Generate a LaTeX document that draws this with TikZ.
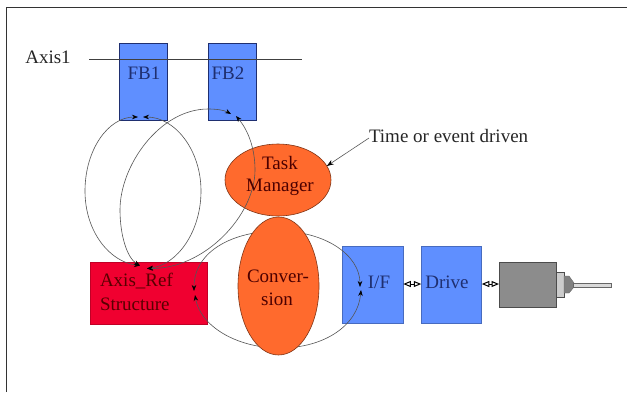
\documentclass[tikz,border=0pt]{standalone}
\usepackage{fontspec}
\setmainfont{Liberation Serif}
\usetikzlibrary{arrows.meta,shapes.geometric}
\definecolor{bluebox}{HTML}{5F8FFF}
\definecolor{orangeel}{HTML}{FF6A2D}
\definecolor{redbox}{HTML}{F00030}
\definecolor{edgeblue}{HTML}{1F2F70}
\definecolor{curveline}{HTML}{555555}
\tikzset{
 every node/.style={font=\fontsize{19}{22}\selectfont,inner sep=0pt,outer sep=0pt},
 fbbox/.style={draw=edgeblue,line width=0.9pt,fill=bluebox,minimum width=48pt,minimum height=77pt},
 blk/.style={draw=bluebox!75!black,line width=0.7pt,fill=bluebox,minimum width=60.5pt,minimum height=77pt},
 oval/.style={draw=black!50!orangeel,line width=0.6pt,fill=orangeel,ellipse},
 arcline/.style={draw=curveline,line width=0.6pt},
 twotips/.style={arcline,{Stealth[length=6pt,width=4.5pt,color=black]}-{Stealth[length=6pt,width=4.5pt,color=black]}},
 link/.style={draw=black,line width=1pt,{Triangle[open,fill=white,length=7.5pt,width=6pt]}-{Triangle[open,fill=white,length=7.5pt,width=6pt]}},
 lbl/.style={text=#1,align=center},
}
\begin{document}
\begin{tikzpicture}[x=1pt,y=-1pt]
\useasboundingbox (0,0) rectangle (627,392);
\fill[white] (0,0) rectangle (627,392);
\coordinate (fl) at (6.5,392);
\coordinate (ftl) at (6.5,7.5);
\coordinate (ftr) at (627,7.5);
\draw[black!80,line width=0.9pt] (fl) -- (ftl) -- (ftr);

% blocks
\node[fbbox] (fb1) at (143,81.5) {};
\node[fbbox] (fb2) at (232,81.5) {};
\node[draw=redbox!80!black,line width=0.5pt,fill=redbox,minimum width=117pt,minimum height=62pt] (axr) at (148.5,293) {};
\node[blk] (if) at (373,284.5) {};
\node[blk] (drive) at (451.5,284.5) {};
\node[draw=black!70,line width=0.6pt,fill=black!45,minimum width=57pt,minimum height=45pt] (motor) at (527.5,284.5) {};

% motor shaft
\node[draw=black!70,line width=0.5pt,fill=black!20,minimum width=8pt,minimum height=25pt,anchor=west] (collar) at (motor.east) {};
\fill[black!50,draw=black!60,line width=0.4pt] (564,276) -- (569,276) -- (574,283) -- (574,287) -- (569,293) -- (564,293) -- cycle;
\node[draw=black!60,line width=0.4pt,fill=black!15,minimum width=38pt,minimum height=3.5pt] (shaft) at (592.5,285) {};

% links
\draw[link] (if.east |- 0,284) -- (drive.west |- 0,284);
\draw[link] (drive.east |- 0,284) -- (motor.west |- 0,284);

% axis line
\coordinate (axstart) at (89,59.5);
\coordinate (axend) at (302,59.5);
\draw[black!75,line width=0.6pt] (axstart) -- (axend);
\node[lbl=black!85] (axis1) at (48,57) {Axis1};

% arcs behind Conversion
\coordinate (left1) at (194,291);
\coordinate (left2) at (195,295);
\coordinate (right1) at (360,287);
\coordinate (right2) at (361,290);
\draw[twotips] (left1) .. controls (194,250) and (235,231) .. (278,231) .. controls (325,231) and (360,255) .. (right1);
\draw[twotips] (left2) .. controls (200,325) and (235,348) .. (280,348) .. controls (325,348) and (358,325) .. (right2);

% ovals
\node[oval,minimum width=106pt,minimum height=72pt] (task) at (278,180) {};
\node[oval,minimum width=81pt,minimum height=138pt] (conv) at (278.5,286) {};

% named curve ends
\coordinate (a1) at (140,265.5);
\coordinate (a2) at (147,268.5);
\coordinate (f1l) at (138,117);
\coordinate (f1r) at (143,117);
\coordinate (f2l) at (231,114);
\coordinate (f2r) at (236,116);

% loops between FB1, FB2 and Axis_Ref
\draw[twotips] (a1) .. controls (110,262) and (85,232) .. (85,191) .. controls (85,150) and (108,117) .. (f1l);
\draw[twotips] (a1) .. controls (127,258) and (120,235) .. (120,210) .. controls (120,165) and (160,109) .. (208,109) .. controls (216,109) and (224,110) .. (f2l);
\draw[twotips] (f1r) .. controls (175,117) and (201,150) .. (201,191) .. controls (201,232) and (177,265) .. (a2);
\draw[twotips] (f2r) .. controls (248,130) and (255,148) .. (255,170) .. controls (255,215) and (205,269) .. (a2);

% labels
\node[lbl=edgeblue] (fb1t) at (144,73) {FB1};
\node[lbl=edgeblue] (fb2t) at (228,73) {FB2};
\node[lbl=black!70!red] (taskt) at (280,163) {Task};
\node[lbl=black!70!red] (mgrt) at (280,187) {Manager};
\node[lbl=black!70!red] (convt) at (278,276) {Conver-};
\node[lbl=black!70!red] (siont) at (277,299) {sion};
\node[lbl=black!65!red,anchor=west] (axt) at (100,281) {Axis\_Ref};
\node[lbl=black!65!red,anchor=west] (strt) at (100,304) {Structure};
\node[lbl=edgeblue] (ift) at (379,282) {I/F};
\node[lbl=edgeblue] (drt) at (447,282) {Drive};
\node[lbl=black!85,anchor=west] (time) at (369,136) {Time or event driven};
\draw[draw=black!65,line width=0.6pt,-{Stealth[length=7pt,width=5pt,color=black]}] (time.west |- 0,138) -- (task.16);
\end{tikzpicture}
\end{document}
